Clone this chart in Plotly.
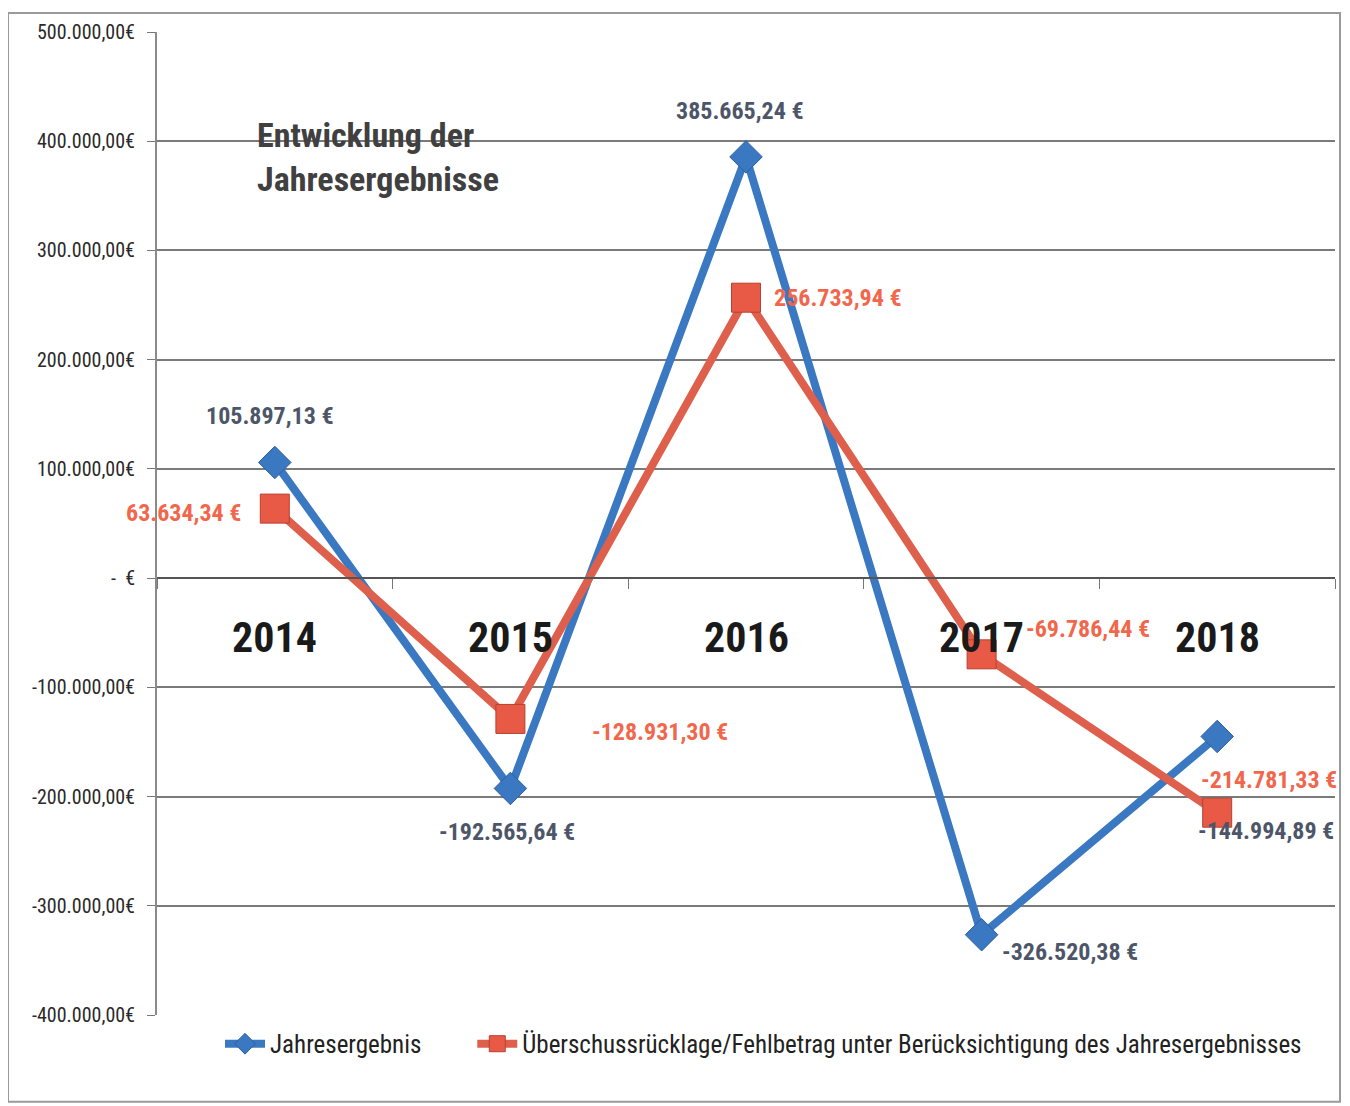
import plotly.graph_objects as go

years = ["2014", "2015", "2016", "2017", "2018"]
jahresergebnis = [105897.13, -192565.64, 385665.24, -326520.38, -144994.89]
ueberschuss = [63634.34, -128931.30, 256733.94, -69786.44, -214781.33]
label_blue = ["105.897,13 €", "-192.565,64 €", "385.665,24 €", "-326.520,38 €", "-144.994,89 €"]
label_red = ["63.634,34 €", "-128.931,30 €", "256.733,94 €", "-69.786,44 €", "-214.781,33 €"]
ytick_vals = [500000, 400000, 300000, 200000, 100000, 0, -100000, -200000, -300000, -400000]
ytick_text = ["500.000,00€", "400.000,00€", "300.000,00€", "200.000,00€", "100.000,00€",
              "-  €", "-100.000,00€", "-200.000,00€", "-300.000,00€", "-400.000,00€"]
series_names = ["Jahresergebnis",
                "Überschussrücklage/Fehlbetrag unter Berücksichtigung des Jahresergebnisses"]
title_text = "Entwicklung der<br>Jahresergebnisse"

NARROW = "Liberation Sans Narrow, Arial Narrow, Roboto Condensed, sans-serif"
BLUE = "#3b78c2"
RED = "#de5f4c"
BLUE_TXT = "#4d5669"
RED_TXT = "#f2664c"

W, H = 1342, 1098
L, T, R, B = 149, 21, 15, 91
PW, PH = W - L - R, H - T - B

fig = go.Figure()
fig.add_trace(go.Scatter(
    x=years, y=jahresergebnis, name=series_names[0] + "&nbsp;" * 8, mode="lines+markers",
    line=dict(color=BLUE, width=8),
    marker=dict(symbol="diamond", size=25, color=BLUE, line=dict(color="#2c5f9e", width=1)),
))
fig.add_trace(go.Scatter(
    x=years, y=ueberschuss, name=series_names[1], mode="lines+markers",
    line=dict(color=RED, width=8),
    marker=dict(symbol="square", size=29, color="#e85a45", line=dict(color="#b8402f", width=1)),
))

# data label offsets (pixels) relative to each point
blue_off = [(-5, 46, "center"), (-3, -44, "center"), (-6, 46, "center"), (18, -17, "left"), (-21, -95, "left")]
red_off = [(-32, -4, "right"), (80, -13, "left"), (26, 0, "left"), (42, 25, "left"), (-18, 33, "left")]

annotations = []
for i, yr in enumerate(years):
    dx, dy, al = blue_off[i]
    annotations.append(dict(x=i, y=jahresergebnis[i], xref="x", yref="y", text="<b>%s</b>" % label_blue[i],
                            showarrow=False, xshift=dx, yshift=dy, xanchor=al,
                            font=dict(family=NARROW, size=24, color=BLUE_TXT)))
    dx, dy, al = red_off[i]
    annotations.append(dict(x=i, y=ueberschuss[i], xref="x", yref="y", text="<b>%s</b>" % label_red[i],
                            showarrow=False, xshift=dx, yshift=dy, xanchor=al,
                            font=dict(family=NARROW, size=24, color=RED_TXT)))
    annotations.append(dict(x=i, y=0, xref="x", yref="y", text="<b>%s</b>" % yr,
                            showarrow=False, yshift=-59,
                            font=dict(family=NARROW, size=42, color="#1a1a1a")))

annotations.append(dict(x=(247 - L) / PW, y=(T + PH - 102) / PH, xref="paper", yref="paper",
                        text="<b>%s</b>" % title_text,
                        showarrow=False, xanchor="left", yanchor="top", align="left",
                        font=dict(family=NARROW, size=34, color="#404040")))

fig.update_layout(
    width=W, height=H,
    margin=dict(l=L, r=R, t=T, b=B),
    paper_bgcolor="white", plot_bgcolor="white",
    showlegend=True,
    legend=dict(orientation="h", x=(212 - L) / PW, y=(T + PH - 1013) / PH, xanchor="left", yanchor="top",
                font=dict(family=NARROW, size=25, color="#222222"),
                itemwidth=40, bgcolor="rgba(0,0,0,0)"),
    annotations=annotations,
    shapes=[dict(type="rect", xref="paper", yref="paper",
                 x0=(0 - L) / PW, x1=(1332 - L) / PW,
                 y0=(T + PH - 1094) / PH, y1=(T + PH - 2) / PH,
                 line=dict(color="#9a9a9a", width=2))],
)
fig.update_xaxes(
    type="category", showticklabels=False, showgrid=False,
    anchor="free", position=0.445,
    showline=True, linecolor="#555555", linewidth=2,
    ticks="outside", tickson="boundaries", ticklen=10, tickcolor="#777777",
    range=[-0.5, 4.5],
)
fig.update_yaxes(
    range=[-400000, 500000], tickvals=ytick_vals, ticktext=ytick_text,
    showgrid=True, gridcolor="#7a7a7a", gridwidth=1.5,
    zeroline=False, showline=True, linecolor="#8a8a8a", linewidth=2,
    ticks="outside", ticklen=8, tickcolor="#777777", ticklabelstandoff=8,
    tickfont=dict(family=NARROW, size=20, color="#2a2a2a"),
)

fig.write_html("out.html")
